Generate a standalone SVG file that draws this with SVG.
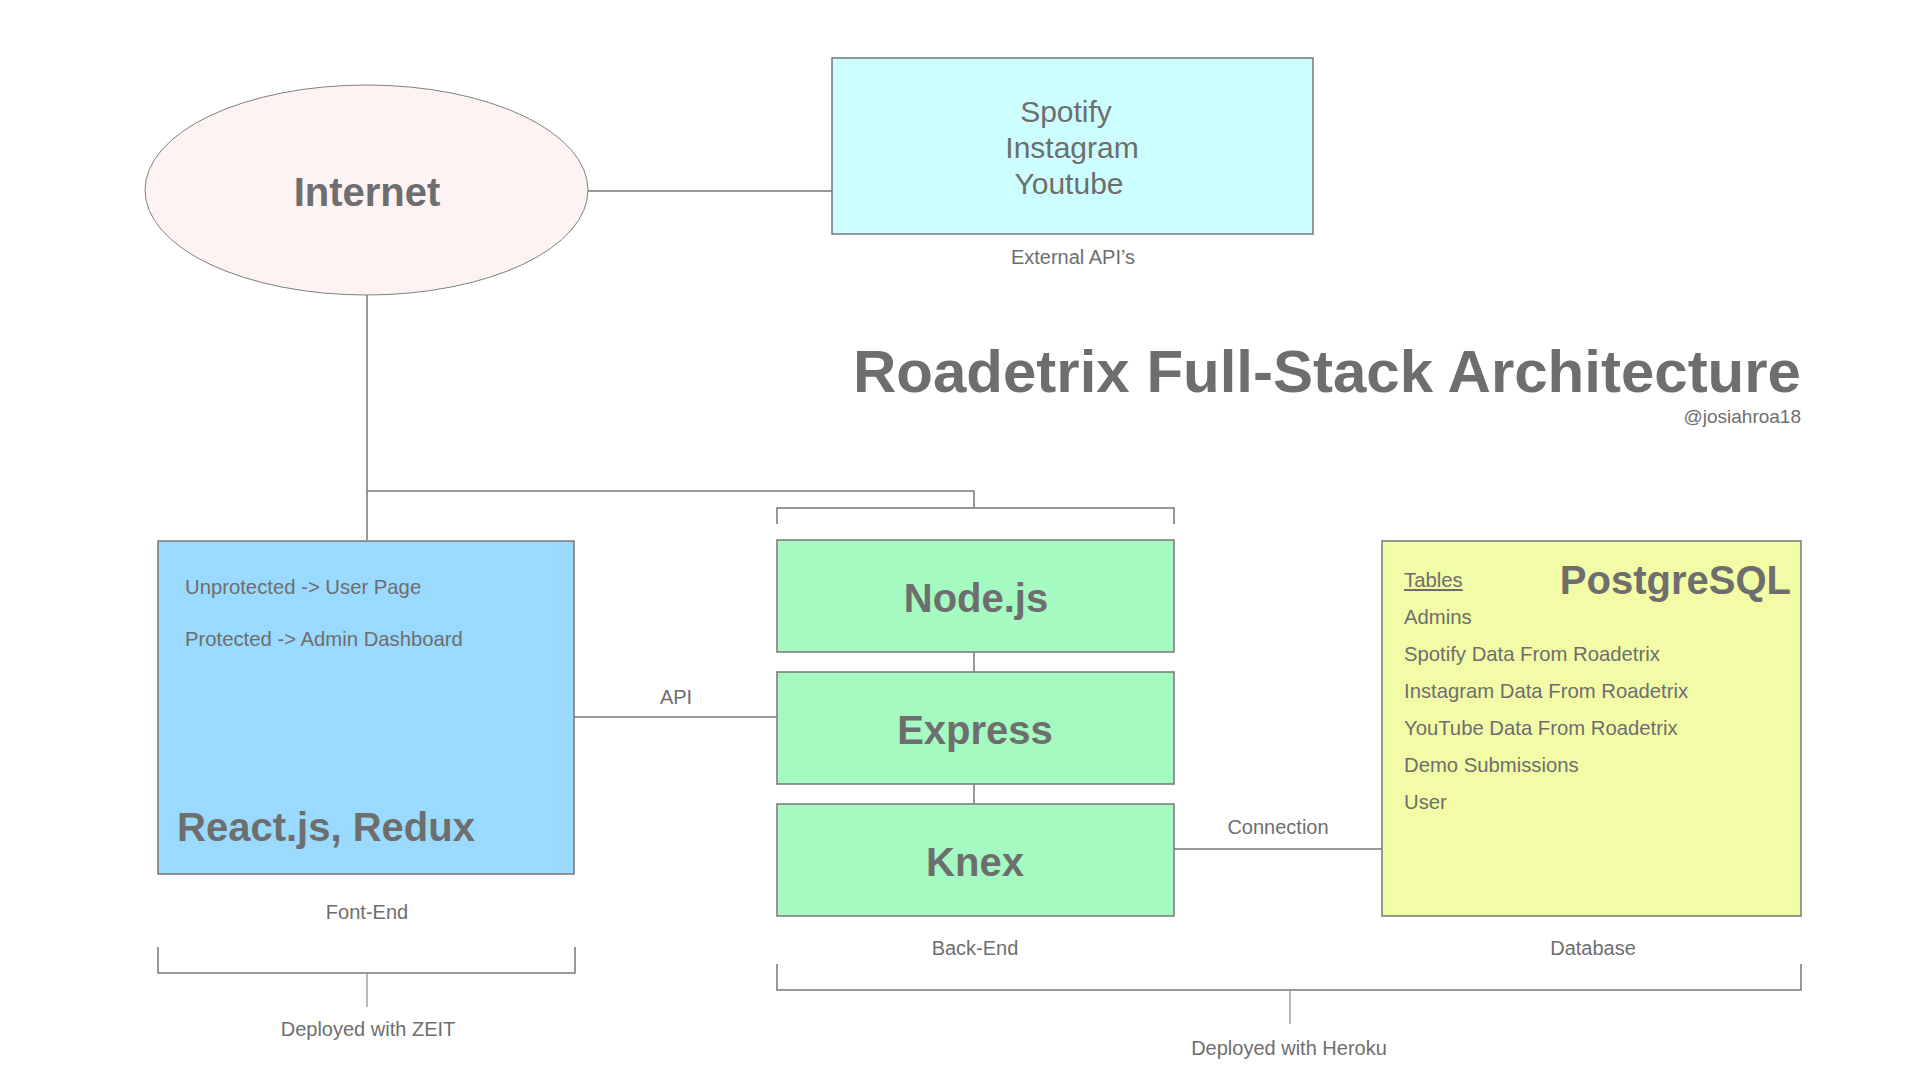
<svg xmlns="http://www.w3.org/2000/svg" width="1920" height="1080" viewBox="0 0 1920 1080">
<style>
  text { font-family: "Liberation Sans", Arial, Helvetica, sans-serif; fill: #6e6e6e; }
  .b { font-weight: bold; }
  .box { stroke: #777777; stroke-width: 1.5; }
  .ln { stroke: #777777; stroke-width: 1.5; fill: none; }
  .thin { stroke: #8a8a8a; stroke-width: 1.2; fill: none; }
  .lbl { font-size: 20px; text-anchor: middle; }
  .item { font-size: 20.3px; }
</style>
<rect width="1920" height="1080" fill="#ffffff"/>

<g id="connectors">
  <line class="ln" x1="588" y1="191" x2="832" y2="191"/>
  <polyline class="ln" points="367,295 367,540"/>
  <polyline class="ln" points="367,491 974,491 974,508"/>
  <polyline class="ln" points="777,524 777,508 1174,508 1174,524"/>
  <line class="ln" x1="974" y1="652" x2="974" y2="672"/>
  <line class="ln" x1="974" y1="784" x2="974" y2="804"/>
  <line class="ln" x1="574" y1="717" x2="777" y2="717"/>
  <line class="ln" x1="1174" y1="849" x2="1382" y2="849"/>
  <polyline class="ln" points="158,947 158,973 575,973 575,947"/>
  <line class="thin" x1="367" y1="973" x2="367" y2="1007"/>
  <polyline class="ln" points="777,964 777,990 1801,990 1801,964"/>
  <line class="thin" x1="1290" y1="990" x2="1290" y2="1024"/>
  <text class="lbl" x="676" y="704">API</text>
  <text class="lbl" x="1278" y="834">Connection</text>
</g>

<g id="internet">
  <ellipse cx="366.5" cy="190" rx="221.5" ry="105" fill="#fdf3f3" stroke="#808080" stroke-width="1"/>
  <text class="b" x="367" y="206" font-size="40" text-anchor="middle">Internet</text>
</g>

<g id="external-apis">
  <rect class="box" x="832" y="58" width="481" height="176" fill="#cdfeff"/>
  <text x="1066" y="122" font-size="30" text-anchor="middle">Spotify</text>
  <text x="1072" y="158" font-size="30" text-anchor="middle">Instagram</text>
  <text x="1069" y="194" font-size="30" text-anchor="middle">Youtube</text>
  <text class="lbl" x="1073" y="264">External API’s</text>
</g>

<g id="title">
  <text class="b" x="1801" y="392" font-size="60" text-anchor="end">Roadetrix Full-Stack Architecture</text>
  <text x="1801" y="423" font-size="19" text-anchor="end">@josiahroa18</text>
</g>

<g id="frontend">
  <rect class="box" x="158" y="541" width="416" height="333" fill="#9adafe"/>
  <text class="item" x="185" y="594">Unprotected -&gt; User Page</text>
  <text class="item" x="185" y="646">Protected -&gt; Admin Dashboard</text>
  <text class="b" x="177" y="841" font-size="40">React.js, Redux</text>
  <text class="lbl" x="367" y="919">Font-End</text>
  <text class="lbl" x="368" y="1036">Deployed with ZEIT</text>
</g>

<g id="nodejs">
  <rect class="box" x="777" y="540" width="397" height="112" fill="#a4fac0"/>
  <text class="b" x="976" y="612" font-size="40" text-anchor="middle">Node.js</text>
</g>

<g id="express">
  <rect class="box" x="777" y="672" width="397" height="112" fill="#a4fac0"/>
  <text class="b" x="975" y="744" font-size="40" text-anchor="middle">Express</text>
</g>

<g id="knex">
  <rect class="box" x="777" y="804" width="397" height="112" fill="#a4fac0"/>
  <text class="b" x="975" y="876" font-size="40" text-anchor="middle">Knex</text>
  <text class="lbl" x="975" y="955">Back-End</text>
</g>

<g id="postgresql">
  <rect class="box" x="1382" y="541" width="419" height="375" fill="#f2fca7"/>
  <text class="item" x="1404" y="587" text-decoration="underline">Tables</text>
  <text class="b" x="1791" y="594" font-size="40" text-anchor="end">PostgreSQL</text>
  <text class="item" x="1404" y="624">Admins</text>
  <text class="item" x="1404" y="661">Spotify Data From Roadetrix</text>
  <text class="item" x="1404" y="698">Instagram Data From Roadetrix</text>
  <text class="item" x="1404" y="735">YouTube Data From Roadetrix</text>
  <text class="item" x="1404" y="772">Demo Submissions</text>
  <text class="item" x="1404" y="809">User</text>
  <text class="lbl" x="1593" y="955">Database</text>
</g>

<g id="heroku">
  <text class="lbl" x="1289" y="1055">Deployed with Heroku</text>
</g>
</svg>
